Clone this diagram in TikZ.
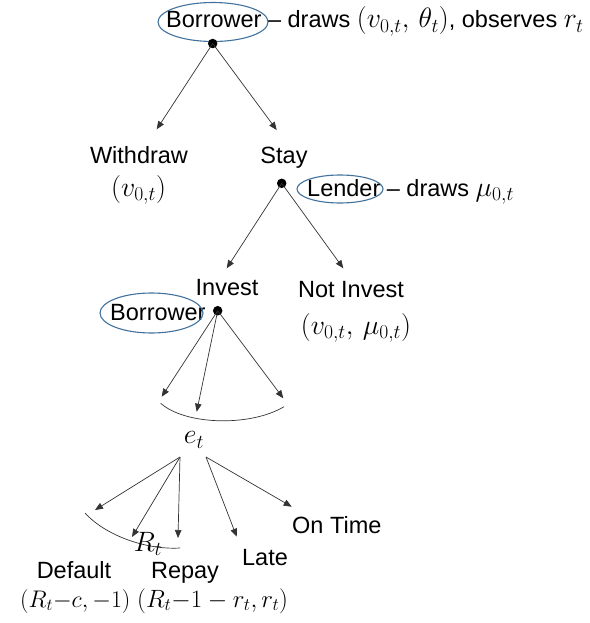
\documentclass[tikz,border=0pt]{standalone}
\usepackage{fix-cm}
\usepackage{fontspec}
\setmainfont{Liberation Sans}
\usetikzlibrary{arrows.meta,shapes.geometric}
\definecolor{ellblue}{RGB}{65,113,156}
\newcommand\mth[1]{{\fontsize{28}{32}\selectfont$#1$}}
\newcommand\mths[2]{{\fontsize{#1}{30}\selectfont$#2$}}
\begin{document}
\begin{tikzpicture}[x=1pt,y=-1pt,
  txt/.style={font=\fontsize{23.5}{28}\selectfont, inner sep=0pt},
  arr/.style={draw=black!80, line width=0.7pt, -{Triangle[length=8pt,width=6.5pt]}},
  dot/.style={circle, fill=black, inner sep=0pt, minimum size=9.5pt},
  oval/.style={ellipse, draw=ellblue, line width=1.1pt, inner sep=0pt},
  arcline/.style={draw=black!80, line width=0.7pt}]
\useasboundingbox (0,0) rectangle (589,623);

% top level
\node[txt, anchor=base west] (toptext) at (166,28) {Borrower -- draws \mth{(v_{0,t},\,\theta_t)}, observes \mth{r_t}};
\node[oval, minimum width=110pt, minimum height=39pt] (ov1) at (213,22) {};
\node[dot] (d1) at (212.7,43.5) {};
\coordinate (tw) at (156.7,129.3);
\coordinate (ts) at (276.7,130);
\draw[arr] (d1.center) -- (tw);
\draw[arr] (d1.center) -- (ts);

\node[txt, anchor=base] (withdraw) at (139,163) {Withdraw};
\node[txt] (wpay) at (138.5,190) {\mth{(v_{0,t})}};
\node[txt, anchor=base] (stay) at (284,163) {Stay};

% lender
\node[dot] (d2) at (281.7,183.3) {};
\node[txt, anchor=base west] (lender) at (307,196) {Lender -- draws \mth{\mu_{0,t}}};
\node[oval, minimum width=86pt, minimum height=28pt] (ov2) at (340,189) {};
\coordinate (ti) at (226.7,268.3);
\coordinate (tn) at (343.3,268.3);
\draw[arr] (d2.center) -- (ti);
\draw[arr] (d2.center) -- (tn);

\node[txt, anchor=base] (invest) at (227,295) {Invest};
\node[txt, anchor=base] (notinv) at (351,297) {Not Invest};
\node[txt] (nipay) at (356,328) {\mth{(v_{0,t},\,\mu_{0,t})}};

% borrower effort
\node[txt, anchor=base west] (borr2) at (110,320) {Borrower};
\node[oval, minimum width=103pt, minimum height=40pt] (ov3) at (151.5,313) {};
\node[dot] (d3) at (217.7,310.7) {};
\coordinate (te1) at (161.7,396.7);
\coordinate (te2) at (196.7,411.7);
\coordinate (te3) at (283.3,398.3);
\draw[arr] (d3.center) -- (te1);
\draw[arr] (d3.center) -- (te2);
\draw[arr] (d3.center) -- (te3);
\draw[arcline] (160.7,403.3) .. controls (185,425) and (250,427) .. (284,406.7);

\node[txt] (et) at (194,440) {\mth{e_t}};
\coordinate (eL) at (180,457);
\coordinate (eR) at (206,457);
\coordinate (tr1) at (95,510);
\coordinate (tr2) at (132,537);
\coordinate (tr3) at (178,538);
\coordinate (tl) at (236.7,536.7);
\coordinate (tt) at (291.7,506.7);
\draw[arr] (eL) -- (tr1);
\draw[arr] (eL) -- (tr2);
\draw[arr] (eL) -- (tr3);
\draw[arr] (eR) -- (tl);
\draw[arr] (eR) -- (tt);
\draw[arcline] (85,513) .. controls (105,535) and (145,550) .. (180,548);
\node[txt] (rt) at (148,544) {\mth{R_t}};

\node[txt, anchor=base] (default) at (74,578) {Default};
\node[txt, anchor=base] (repay) at (185,578) {Repay};
\node[txt, anchor=base] (late) at (265,565) {Late};
\node[txt, anchor=base west] (ontime) at (292,533) {On Time};
\node[txt, anchor=base west] (dpay) at (20,607) {\mths{24}{(R_t{-}c,{-}1)}};
\node[txt, anchor=base west] (rpay) at (137,607) {\mths{25}{(R_t{-}1-r_t,r_t)}};
\end{tikzpicture}
\end{document}
